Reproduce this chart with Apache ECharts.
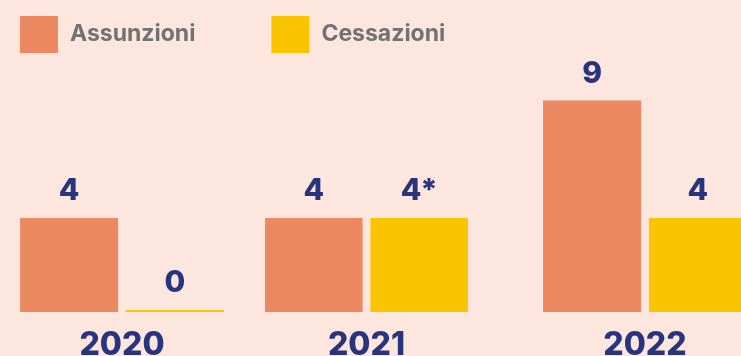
<!DOCTYPE html>
<html>
<head>
<meta charset="utf-8">
<style>
  html, body { margin: 0; padding: 0; background: #fce6de; }
  #chart { width: 741px; height: 356px; }
</style>
<script src="https://cdn.jsdelivr.net/npm/echarts@6/dist/echarts.min.js"></script>
</head>
<body>
<div id="chart"></div>
<script>
// Personnel movements per year
const years = ['2020', '2021', '2022'];
const assunzioni = [4, 4, 9];
const cessazioni = [0, 4, 4];
const cessazioniLabels = ['0', '4*', '4'];

const ORANGE = '#ec8960';
const YELLOW = '#fbc400';
const NAVY = '#29347f';
const FONT = 'Inter, "Noto Sans", sans-serif';

// one small panel per year so each pair can be placed freely
const panels = [
  { left: 20, width: 204 },
  { left: 265, width: 203 },
  { left: 543, width: 204 }
];

const grids = panels.map(p => Object.assign({ top: 77, bottom: 44, outerBoundsMode: 'none' }, p));
const xAxes = years.map((y, i) => ({
  type: 'category', gridIndex: i, data: [y],
  axisLine: { show: false }, axisTick: { show: false },
  axisLabel: { color: NAVY, fontFamily: FONT, fontWeight: 800, fontSize: 32, margin: 17 }
}));
const yAxes = years.map((y, i) => ({
  type: 'value', gridIndex: i, min: 0, max: 10, show: false
}));

const labelStyle = {
  show: true, position: 'top', distance: 12,
  color: NAVY, fontFamily: FONT, fontWeight: 800, fontSize: 30
};

const series = [];
years.forEach((y, i) => {
  series.push({
    name: 'Assunzioni', type: 'bar', xAxisIndex: i, yAxisIndex: i,
    data: [assunzioni[i]], barWidth: 98, barGap: '8%',
    itemStyle: { color: ORANGE },
    label: labelStyle
  });
  series.push({
    name: 'Cessazioni', type: 'bar', xAxisIndex: i, yAxisIndex: i,
    data: [cessazioni[i]], barWidth: 98, barGap: '8%', barMinHeight: 2,
    itemStyle: { color: YELLOW },
    label: Object.assign({}, labelStyle, { formatter: () => cessazioniLabels[i] })
  });
});

const chart = echarts.init(document.getElementById('chart'));
chart.setOption({
  backgroundColor: '#fce6de',
  animation: false,
  legend: {
    left: 20, top: 16, padding: 0, icon: 'rect',
    itemWidth: 38, itemHeight: 37, itemGap: 76,
    data: ['Assunzioni', 'Cessazioni'],
    textStyle: { color: '#707274', fontFamily: FONT, fontWeight: 700, fontSize: 23, padding: [4, 0, 0, 7] }
  },
  grid: grids,
  xAxis: xAxes,
  yAxis: yAxes,
  series: series
});
</script>
</body>
</html>
